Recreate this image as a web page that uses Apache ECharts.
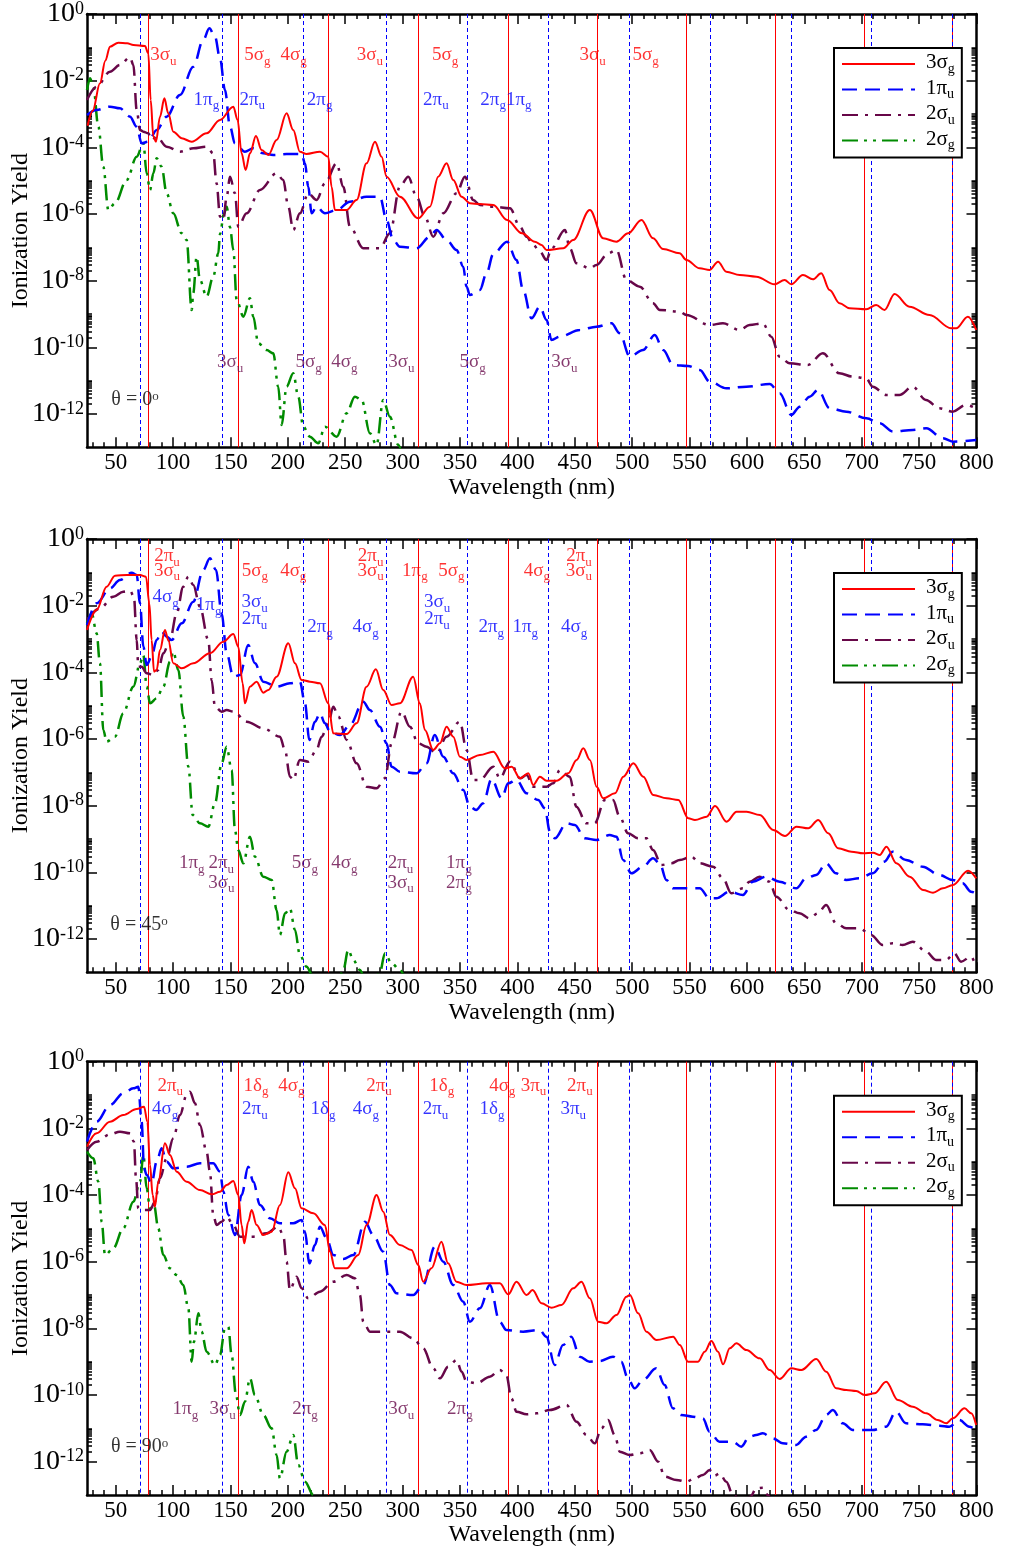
<!DOCTYPE html>
<html><head><meta charset="utf-8">
<script src="https://cdn.jsdelivr.net/npm/echarts@6/dist/echarts.min.js"></script>
<style>html,body{margin:0;padding:0;background:#fff}#c{width:1010px;height:1551px}</style>
</head><body><div id="c"></div><script>
// ---------------- DATA (x = wavelength nm, y = log10 of ionization yield) ----------------
const seriesNames = ['3σ_g', '1π_u', '2σ_u', '2σ_g'];
const xTickLabels = [50,100,150,200,250,300,350,400,450,500,550,600,650,700,750,800];
const yTickLabels = [1,1e-2,1e-4,1e-6,1e-8,1e-10,1e-12];
const redLineNm  = [77.8,156.2,235.2,313.6,392,469,546.8,624.3,701.8,779];
const blueLineNm = [70.9,142.3,213.4,285.2,356.3,426.9,497.1,567.7,638,708.5,779];

// theta = 0
const p1_3sg = [[25.5,-3.35],[30,-2.9],[36.3,-2.08],[41,-1.4],[45,-0.98],[52.3,-0.86],[60,-0.88],[65.4,-0.93],[75.5,-0.96],[78.4,-1.18],[80.5,-2.58],[82.8,-3.68],[85.1,-3.83],[88.6,-3.08],[92.4,-2.53],[95.8,-2.98],[100.2,-3.53],[107.5,-3.73],[116.2,-3.83],[129.2,-3.58],[140.9,-3.18],[152.5,-2.78],[156.2,-3.18],[159.7,-4.18],[163.2,-4.68],[167,-4.18],[172.2,-3.66],[177.1,-4.08],[183,-4.23],[190.2,-3.78],[198.9,-2.98],[204.7,-3.48],[210.5,-4.13],[216.3,-4.2],[228,-4.13],[235.2,-4.28],[238.1,-5.18],[241,-5.88],[251.2,-5.88],[259.9,-5.58],[268.6,-4.48],[275.9,-3.83],[281.7,-4.28],[286,-4.88],[297.6,-5.48],[313.6,-6.13],[323.8,-5.78],[331,-4.88],[338.3,-4.48],[344.1,-4.98],[351.4,-5.48],[358.6,-5.68],[367.3,-5.7],[379,-5.73],[391,-6.18],[404,-6.58],[415.2,-6.83],[421,-6.93],[425.4,-7.08],[439.9,-7.03],[448.6,-6.78],[463.1,-5.88],[474.7,-6.73],[486.3,-6.83],[496.5,-6.58],[508.1,-6.18],[518.2,-6.73],[526.9,-7.05],[541.4,-7.18],[547.2,-7.38],[558.8,-7.63],[567.5,-7.68],[574.8,-7.43],[582,-7.73],[593.7,-7.83],[608.2,-7.88],[624.1,-8.11],[632.8,-7.98],[638.6,-8.11],[648.8,-7.83],[657.5,-7.96],[664.7,-7.78],[672,-8.28],[680.7,-8.68],[689.4,-8.83],[703.9,-8.86],[712.6,-8.73],[719.9,-8.88],[728.6,-8.4],[741.6,-8.78],[759.1,-9.03],[777.9,-9.43],[782.3,-9.43],[792.5,-9.08],[799.7,-9.48]];
const p1_1pu = [[25,-3.03],[33.4,-2.88],[45,-2.78],[53.7,-2.83],[62.5,-3.08],[68.3,-3.38],[72.6,-3.88],[78.4,-3.83],[85.7,-3.48],[94.4,-3.08],[106,-2.43],[117.6,-1.58],[126.3,-0.78],[131.6,-0.43],[136.5,-0.68],[140.9,-1.33],[145.2,-2.28],[149.6,-3.38],[153.9,-3.88],[162.6,-4.13],[169.9,-4.03],[178.6,-4.18],[187.3,-4.23],[198.9,-4.2],[212,-4.2],[214.9,-4.48],[217.8,-5.18],[220.7,-5.98],[225,-5.78],[232.3,-5.98],[242.5,-5.88],[254.1,-5.63],[268.6,-5.48],[280.2,-5.48],[286,-6.18],[291.8,-6.78],[297.6,-6.98],[312.1,-7.03],[323.8,-6.68],[329.6,-6.48],[338.3,-6.78],[347,-7.08],[352.8,-7.58],[355.7,-8.18],[358.6,-8.43],[367.3,-8.28],[373.1,-7.78],[379,-7.2],[391,-6.83],[399.2,-7.38],[405,-8.28],[412.3,-9.13],[419.6,-8.78],[425.4,-9.18],[429.7,-9.78],[437,-9.68],[454.4,-9.48],[468.9,-9.38],[482,-9.28],[489.2,-9.58],[497.9,-10.28],[509.5,-10.08],[519.7,-9.63],[527,-10.08],[535.7,-10.53],[548.7,-10.56],[558.9,-10.68],[567.6,-11.03],[582.1,-11.23],[599.5,-11.18],[619.8,-11.1],[628.5,-11.38],[638.7,-12.03],[646,-11.78],[654.7,-11.48],[661.9,-11.28],[672.1,-11.83],[686.6,-11.93],[704,-12.13],[715.6,-12.28],[727.2,-12.53],[744.6,-12.48],[756.2,-12.43],[770.7,-12.73],[779.4,-12.83],[799.7,-12.78]];
const p1_2su = [[25,-2.58],[33.4,-2.18],[45,-1.73],[53.7,-1.53],[62.5,-1.3],[65.4,-1.53],[68.3,-2.88],[71.2,-3.48],[74.1,-3.53],[78.4,-3.58],[81.3,-3.78],[85.7,-3.68],[94.4,-3.98],[106,-4.13],[117.6,-4.03],[129.2,-3.98],[135,-4.18],[137.9,-5.08],[140.9,-6.08],[143.8,-6.18],[146.7,-5.48],[149.6,-4.88],[153.9,-5.38],[156.8,-6.38],[164.1,-5.98],[175.7,-5.28],[190.2,-4.78],[196,-4.98],[200.4,-5.78],[204.7,-6.48],[210.5,-5.98],[217.8,-5.38],[225,-5.58],[232.3,-5.08],[242.5,-4.48],[248.3,-5.18],[254.1,-6.38],[265.7,-7.03],[280.2,-7.03],[288.9,-6.58],[297.6,-5.18],[304.9,-4.88],[312.1,-5.48],[319.4,-6.08],[326.7,-6.68],[335.4,-5.98],[347,-5.38],[354.3,-4.88],[361.5,-5.58],[367.3,-5.73],[379,-5.78],[393.5,-5.83],[402.2,-6.38],[408,-6.68],[413.8,-6.93],[419.6,-7.13],[425.4,-7.38],[429.7,-7.03],[441.4,-6.48],[445.7,-7.03],[451.5,-7.48],[463.1,-7.63],[468.9,-7.53],[479,-7.18],[486.3,-7.08],[495,-7.98],[506.6,-8.18],[518.2,-8.68],[524,-8.88],[541.4,-8.93],[547.2,-9.03],[567.5,-9.33],[579.1,-9.28],[593.6,-9.48],[602.3,-9.33],[613.9,-9.28],[621.2,-9.68],[628.4,-10.28],[637.1,-10.48],[653.1,-10.53],[666.1,-10.18],[680.6,-10.78],[692.2,-10.88],[703.8,-10.93],[709.6,-11.18],[721.2,-11.43],[732.8,-11.43],[744.4,-11.18],[756,-11.58],[767.6,-11.83],[779.2,-11.93],[790.8,-11.73],[799.5,-11.83]];
const p1_2sg = [[25,-2.28],[27.6,-1.93],[30.5,-2.18],[34.9,-3.38],[39.2,-4.58],[43.6,-5.88],[49.4,-5.68],[59.6,-4.98],[68.3,-4.28],[74.1,-3.88],[77,-4.78],[79.9,-5.28],[82.8,-4.78],[85.7,-4.33],[90,-4.58],[94.4,-5.38],[100.2,-5.98],[107.5,-6.58],[111.8,-6.78],[116.2,-8.88],[117.6,-8.38],[120.5,-7.28],[123.4,-7.98],[129.2,-8.48],[135,-7.88],[139.4,-7.18],[140.9,-6.6],[144.3,-6.0],[146.7,-5.78],[149.6,-6.4],[152.5,-7.08],[155.4,-8.58],[161.2,-9.08],[167,-8.53],[169.9,-9.08],[174.2,-9.88],[181.5,-10.08],[187.3,-10.18],[191.6,-11.18],[194.6,-12.33],[198.9,-11.18],[204.7,-10.78],[209.1,-11.48],[213.4,-12.38],[219.2,-12.68],[226.5,-12.88],[232.3,-12.38],[242.5,-12.68],[251.2,-11.98],[258.4,-11.48],[264.3,-11.58],[271.5,-12.58],[277.3,-12.93],[283.1,-11.58],[288.9,-12.08],[296.2,-12.93],[302,-13.6]];

// theta = 45
const p2_3sg = [[25,-2.73],[33.4,-2.13],[42.1,-1.43],[49.4,-1.1],[59.6,-1.08],[71.2,-1.08],[76.4,-1.13],[79.3,-1.93],[81.3,-3.03],[83.4,-3.98],[85.7,-3.93],[88.6,-3.33],[92.9,-2.73],[95.8,-3.03],[100.2,-3.73],[107.5,-3.88],[117.6,-3.73],[132.1,-3.43],[143.8,-3.08],[152.5,-2.85],[156.8,-3.23],[160.6,-4.33],[162.6,-4.93],[167,-4.43],[172.8,-4.28],[178.6,-4.61],[183,-4.53],[190.2,-4.13],[200.4,-3.13],[206.2,-3.73],[212,-4.23],[219.3,-4.28],[228,-4.33],[235.2,-4.93],[239.6,-5.83],[251.2,-5.85],[259.9,-5.53],[268.6,-4.43],[276.7,-3.91],[283.1,-4.53],[290.4,-4.98],[297.6,-4.93],[309.2,-4.13],[315,-4.93],[319.4,-5.73],[326.7,-6.33],[332.5,-6.13],[338.3,-5.63],[344.1,-5.93],[349.9,-6.53],[355.7,-6.63],[367.3,-6.48],[379,-6.38],[389.1,-6.88],[395,-6.83],[402.3,-7.18],[409.5,-7.03],[413.8,-7.38],[419.6,-7.13],[425.4,-7.25],[434.2,-7.25],[444.3,-7.03],[451.6,-6.63],[457.4,-6.28],[463.2,-6.63],[469,-7.43],[474.8,-7.78],[485,-7.63],[492.3,-7.13],[501,-6.73],[509.7,-7.13],[518.4,-7.68],[530,-7.78],[540.2,-7.83],[548.9,-8.38],[554.7,-8.43],[564.9,-8.33],[572.2,-8.01],[582.3,-8.48],[591,-8.18],[599.7,-8.18],[611.3,-8.28],[622.9,-8.73],[633.1,-8.91],[643.2,-8.63],[653.4,-8.68],[662.1,-8.43],[670.8,-8.83],[679.5,-9.28],[691.1,-9.38],[701.2,-9.43],[709.9,-9.41],[715.7,-9.48],[721.5,-9.23],[730.2,-9.73],[741.8,-10.13],[753.4,-10.53],[762.1,-10.61],[770.8,-10.48],[779.5,-10.38],[792.6,-9.95],[799.8,-10.18]];
const p2_1pu = [[25,-2.58],[33.4,-1.93],[45,-1.48],[53.7,-1.23],[63.9,-1.01],[68.3,-1.08],[71.2,-1.93],[74.1,-3.23],[77,-3.78],[81.3,-3.53],[85.7,-3.03],[90,-2.78],[94.4,-2.93],[98.8,-3.03],[107.5,-2.53],[117.6,-1.88],[126.3,-0.93],[132.1,-0.58],[137.4,-0.93],[142.3,-2.23],[146.7,-3.43],[152.5,-4.13],[158.3,-4.08],[165.5,-3.18],[171.3,-3.73],[178.6,-4.28],[190.2,-4.43],[201.8,-4.33],[210.5,-4.28],[214.9,-4.93],[218.7,-6.03],[223.6,-5.48],[228,-5.23],[232.3,-5.53],[236.7,-5.78],[245.4,-5.88],[254.1,-5.58],[265.7,-4.88],[271.5,-5.13],[280.2,-5.63],[286,-6.13],[290.4,-6.83],[297.6,-6.98],[312.1,-7.03],[320.8,-6.73],[328,-5.88],[335.4,-6.53],[344.1,-7.03],[352.8,-7.53],[358.6,-8.03],[364,-8.13],[370.2,-7.93],[377.5,-7.2],[386.3,-7.78],[392,-7.33],[399.2,-7.23],[408,-7.63],[418.1,-7.83],[423.9,-8.08],[428.3,-8.78],[432.6,-8.98],[442.8,-8.53],[450,-8.58],[458.7,-8.98],[468.8,-9.03],[480.4,-8.88],[486.3,-8.93],[492.1,-9.63],[499.3,-10.03],[509.5,-9.83],[518.2,-9.58],[524,-9.73],[529.8,-10.23],[535.6,-10.48],[550.1,-10.48],[558.8,-10.48],[567.5,-10.78],[573.3,-10.78],[584.9,-10.58],[596.5,-10.68],[605.2,-10.28],[616.8,-10.13],[628.4,-10.28],[642.9,-10.48],[651.6,-10.18],[660.3,-10.08],[669,-9.73],[677.7,-10.03],[686.4,-10.23],[698,-10.18],[709.6,-10.03],[719.7,-9.68],[727,-9.38],[738.6,-9.63],[753.1,-9.83],[767.6,-10.08],[779.2,-10.23],[787.9,-10.33],[795.2,-10.58],[799.5,-10.63]];
const p2_2su = [[25,-2.43],[36.3,-2.08],[47.9,-1.73],[56.6,-1.58],[62.5,-1.55],[65.9,-1.73],[68.3,-3.03],[69.7,-3.83],[72.6,-3.83],[77,-4.03],[82.8,-4.08],[87.1,-3.93],[91.5,-3.43],[97.3,-3.03],[103.1,-2.23],[108.9,-1.43],[113.3,-1.13],[117.6,-1.38],[123.4,-2.03],[130.7,-3.03],[133.6,-4.23],[136.5,-5.03],[142.3,-5.18],[146.7,-5.13],[152.5,-5.18],[164.1,-5.48],[178.6,-5.68],[193.1,-5.93],[197.5,-6.33],[201.8,-7.13],[204.7,-7.23],[210.5,-6.63],[217.8,-6.68],[225,-6.33],[229.4,-5.93],[235.2,-5.53],[239.6,-5.03],[244,-5.33],[251.2,-6.03],[259.9,-6.73],[268.6,-7.43],[277.3,-7.48],[284.6,-7.18],[290.4,-6.13],[299.1,-5.18],[306.3,-5.63],[313.6,-6.13],[320.8,-6.23],[329.6,-6.43],[338.3,-5.93],[349.9,-5.48],[355.7,-6.33],[361.5,-7.23],[367.3,-7.23],[379,-6.83],[384.7,-7.18],[393.5,-6.68],[402.3,-7.18],[408,-7.08],[413.8,-7.43],[425.4,-7.43],[431.2,-7.33],[437,-6.93],[445.6,-7.13],[451.4,-8.03],[460.1,-8.53],[467.4,-8.53],[476.1,-7.83],[483.3,-7.83],[489.1,-8.33],[496.4,-8.83],[505.1,-8.98],[512.4,-8.98],[518.2,-9.33],[525.4,-9.78],[534.2,-9.73],[541.4,-9.63],[551.6,-9.53],[558.8,-9.73],[570.4,-9.83],[579.1,-10.18],[586.4,-10.63],[596.5,-10.48],[602.3,-10.28],[611,-10.13],[619.7,-10.28],[625.5,-10.73],[637.1,-11.13],[645.8,-11.23],[654.5,-11.38],[661.8,-11.23],[669,-10.98],[677.7,-11.53],[686.4,-11.68],[698,-11.68],[708.1,-11.88],[718.3,-12.18],[727,-12.13],[735.7,-12.18],[744.4,-12.08],[756,-12.38],[764.7,-12.63],[773.4,-12.63],[780.7,-12.43],[786.5,-12.68],[795.2,-12.53],[799.5,-12.83]];
const p2_2sg = [[25,-2.53],[29.1,-2.23],[33.4,-2.83],[36.3,-3.73],[39.2,-5.73],[42.1,-6.08],[49.4,-5.93],[56.6,-5.23],[65.4,-4.43],[71.2,-3.73],[74.1,-3.48],[77,-4.43],[79.9,-4.93],[85.7,-4.78],[91.5,-4.43],[97.3,-3.68],[100.2,-3.38],[104.6,-3.93],[108.9,-5.33],[113.3,-6.83],[117.1,-8.28],[123.4,-8.53],[130.7,-8.63],[136.5,-7.93],[142.3,-6.73],[146.7,-6.23],[151,-6.93],[153.9,-8.73],[156.8,-9.33],[161.2,-9.73],[167,-8.93],[171.3,-9.53],[178.6,-10.13],[185.9,-10.23],[190.2,-11.13],[193.1,-11.88],[197.5,-11.23],[201.8,-11.08],[206.2,-11.73],[210.5,-12.48],[216.3,-12.83],[222.2,-13.13],[232,-13.8],[242,-13.6],[248.3,-12.93],[252.6,-12.33],[257,-12.63],[262.8,-12.93],[268,-13.3],[275,-13.3],[280.2,-13.0],[284.6,-12.43],[290.4,-12.73],[297.6,-12.93],[305,-13.5]];

// theta = 90
const p3_3sg = [[25,-2.55],[33.4,-2.15],[45,-1.8],[56.6,-1.6],[68.3,-1.42],[74.7,-1.35],[77.6,-1.8],[79.9,-3.1],[82.2,-4.0],[84.2,-4.35],[87.1,-3.6],[92.9,-2.45],[97.3,-2.8],[103.1,-3.3],[111.8,-3.6],[123.4,-3.85],[133.6,-3.98],[140.9,-3.9],[146.7,-3.7],[152.5,-3.58],[156.8,-4.0],[159.7,-4.9],[162,-5.45],[165.5,-4.8],[168.4,-4.45],[172.8,-4.9],[178.6,-5.2],[185.9,-5.1],[193.1,-4.3],[200.4,-3.32],[206.2,-3.8],[212,-4.4],[222.2,-4.55],[232.3,-4.9],[236.7,-5.7],[241,-6.2],[251.2,-6.2],[261.3,-5.8],[268.6,-4.9],[277.3,-4.0],[283.1,-4.5],[288.9,-5.2],[297.6,-5.5],[307.7,-5.65],[313.6,-6.1],[317.9,-6.6],[325.1,-6.2],[333.8,-5.4],[339.6,-6.05],[346.9,-6.6],[355.7,-6.7],[373.1,-6.65],[384.7,-6.65],[392,-6.98],[399.2,-6.6],[408,-7.0],[413.2,-6.85],[421,-7.25],[429.7,-7.38],[438.4,-7.3],[448.6,-6.8],[455.8,-6.6],[463.1,-7.1],[470.3,-7.8],[477.6,-7.85],[486.3,-7.6],[495,-7.05],[498,-7.0],[505.2,-7.55],[512.4,-8.1],[521.2,-8.35],[535.7,-8.25],[541.5,-8.5],[548.7,-9.0],[557.4,-9.0],[563.2,-8.7],[569,-8.38],[574.8,-8.7],[579.2,-9.08],[585,-8.6],[590.8,-8.45],[599.5,-8.65],[611.1,-8.9],[619.8,-9.25],[628.5,-9.52],[638.7,-9.2],[647.4,-9.25],[660.4,-8.92],[669.1,-9.3],[677.8,-9.8],[686.5,-9.85],[695.2,-9.88],[702.5,-10.0],[711.2,-9.95],[721.3,-9.6],[731.5,-10.15],[744.5,-10.35],[756.2,-10.55],[766.3,-10.75],[773.6,-10.85],[779.4,-10.7],[789.6,-10.4],[795.4,-10.55],[799.7,-10.9]];
const p3_1pu = [[25,-2.4],[33.4,-1.8],[45,-1.3],[56.6,-0.95],[65.4,-0.8],[69.7,-0.75],[72.6,-1.8],[74.7,-3.2],[77,-3.4],[81.3,-3.65],[85.7,-3.0],[90,-2.6],[94.4,-3.0],[100.2,-3.2],[111.8,-3.15],[123.4,-3.05],[135,-3.05],[140.9,-3.3],[143.8,-3.9],[148.1,-4.6],[153.9,-5.2],[159.7,-4.0],[165.5,-3.15],[169.9,-3.6],[175.7,-4.3],[184.4,-4.7],[193.1,-4.85],[204.7,-4.85],[212,-4.75],[214.9,-5.1],[218.7,-6.05],[223.6,-5.5],[228,-4.95],[233.8,-5.3],[239.6,-5.8],[248.3,-5.92],[257,-5.8],[267.2,-4.8],[274.4,-5.2],[283.1,-5.7],[288.9,-6.7],[294.7,-6.95],[309.2,-7.0],[317.9,-6.7],[328,-5.55],[335.4,-6.0],[344.1,-6.7],[352.8,-7.2],[358.6,-7.8],[367.3,-7.4],[376,-6.7],[384.6,-7.8],[390.4,-8.05],[404.9,-8.1],[419.4,-8.05],[425.2,-8.25],[432.5,-9.1],[439.7,-8.5],[447,-8.25],[454.3,-8.85],[463,-9.0],[471.7,-8.98],[483.3,-8.85],[490.5,-9.0],[496.3,-9.5],[502.1,-9.8],[509.4,-9.55],[521,-9.2],[528.2,-9.7],[535.5,-10.4],[542.8,-10.6],[552.9,-10.65],[561.6,-10.7],[567.4,-11.1],[576.1,-11.4],[587.7,-11.4],[595,-11.55],[602.2,-11.25],[608,-11.2],[613.8,-11.15],[622.5,-11.3],[631.2,-11.45],[642.8,-11.5],[651.6,-11.25],[660.3,-11.05],[669,-10.6],[674.8,-10.45],[683.5,-10.85],[692.2,-11.05],[709.6,-11.05],[721.2,-10.95],[729.9,-10.5],[738.6,-10.85],[753.1,-10.88],[767.6,-10.92],[776.3,-10.95],[785,-10.75],[793.8,-10.95],[799.5,-11.05]];
const p3_2su = [[25,-2.65],[33.4,-2.4],[45,-2.18],[53.7,-2.1],[62.5,-2.15],[65.9,-2.4],[67.7,-3.5],[69.7,-4.4],[74.1,-4.45],[79.9,-4.45],[84.2,-4.2],[88.6,-3.5],[94.4,-2.9],[100.2,-2.3],[106,-1.6],[111.8,-1.0],[114.7,-0.9],[119.1,-1.25],[123.4,-1.9],[129.2,-2.7],[132.1,-3.3],[135,-4.6],[137.9,-4.9],[142.3,-4.8],[146.7,-4.65],[152.5,-4.9],[158.3,-5.25],[169.9,-5.25],[181.5,-5.15],[191.6,-4.95],[196,-5.2],[198.9,-6.0],[201.8,-6.85],[207.6,-6.45],[212,-6.8],[217.8,-7.1],[228,-6.9],[239.6,-6.6],[251.2,-6.4],[258.4,-6.5],[262.8,-7.0],[265.7,-7.8],[271.5,-8.1],[284.6,-8.1],[297.6,-8.1],[309.2,-8.3],[317.9,-8.6],[326.7,-9.2],[332.5,-9.5],[339.7,-9.15],[347,-8.95],[351.4,-9.3],[355.7,-9.6],[364.4,-9.65],[376,-9.45],[384.7,-9.25],[390.4,-9.4],[394.8,-10.1],[399.2,-10.5],[408,-10.58],[416.7,-10.55],[428.3,-10.45],[442.8,-10.3],[451.5,-10.8],[460.2,-11.2],[467.4,-11.45],[473.2,-11.0],[479,-10.75],[484.8,-11.2],[489.2,-11.7],[497.9,-11.8],[506.6,-11.75],[515.3,-11.65],[522.6,-12.0],[528.4,-12.45],[538.5,-12.55],[547.2,-12.6],[554.5,-12.5],[561.7,-12.4],[567.5,-12.25],[571.9,-12.42],[576.2,-12.35],[582,-12.6],[587.8,-13.0],[596,-13.2],[603,-13.05],[608.1,-12.8],[613.9,-12.78],[618.2,-13.0],[625,-13.5]];
const p3_2sg = [[25,-2.7],[30.5,-2.9],[34.9,-3.6],[37.8,-4.8],[40.7,-5.8],[47.9,-5.6],[56.6,-5.0],[65.4,-4.2],[71.2,-3.6],[74.1,-2.8],[77,-3.8],[79.9,-4.4],[83.4,-4.3],[87.1,-5.0],[91.5,-5.8],[97.3,-6.2],[103.1,-6.4],[108.9,-6.7],[113.3,-7.4],[116.2,-9.0],[118.2,-8.4],[122,-7.55],[124.9,-8.1],[129.2,-8.7],[136.5,-9.1],[140.9,-8.8],[145.2,-8.0],[148.1,-7.95],[151,-8.8],[154.8,-10.0],[158.3,-10.6],[162.6,-10.2],[167,-9.5],[171.3,-10.0],[178.6,-10.6],[185.9,-11.0],[190.2,-11.8],[193.1,-12.5],[198.9,-11.7],[204.7,-11.2],[209.1,-12.1],[214.9,-12.6],[222.2,-13.0],[230,-13.6]];

// annotation labels: [text, wavelength nm, log10 yield]   (_x = subscript, ^x = superscript)
const p1RedLabels = [['3σ_u',91.5,-1.28],['5σ_g',173.4,-1.28],['4σ_g',205,-1.28],['3σ_u',271.5,-1.28],['5σ_g',337,-1.28],['3σ_u',465.5,-1.28],['5σ_g',511.7,-1.28]];
const p1BlueLabels = [['1π_g',129,-2.62],['2π_u',169,-2.62],['2π_g',227.7,-2.62],['2π_u',329,-2.62],['2π_g1π_g',390,-2.62]];
const p1MaroonLabels = [['3σ_u',149.6,-10.5],['5σ_g',218,-10.5],['4σ_g',249.2,-10.5],['3σ_u',299,-10.5],['5σ_g',361,-10.5],['3σ_u',441,-10.5]];
const p1Theta = [['θ = 0^o',66.8,-11.63]];
const p2RedLabels = [['2π_u',94.7,-0.57],['3σ_u',94.7,-1.0],['5σ_g',171.3,-1.0],['4σ_g',204.7,-1.0],['2π_u',272.1,-0.57],['3σ_u',272.1,-1.0],['1π_g',310.7,-1.0],['5σ_g',342.4,-1.0],['4σ_g',417,-1.0],['2π_u',453.6,-0.57],['3σ_u',453.6,-1.0]];
const p2BlueLabels = [['4σ_g',93.5,-1.8],['1π_g',131,-2.03],['3σ_u',171,-1.95],['2π_u',171,-2.45],['2π_g',228,-2.7],['4σ_g',267.7,-2.7],['3σ_u',330,-1.95],['2π_u',330,-2.45],['2π_g',377.2,-2.7],['1π_g',406.8,-2.7],['4σ_g',449.5,-2.7]];
const p2MaroonLabels = [['1π_g',116.2,-9.78],['2π_u',142,-9.78],['3σ_u',142,-10.36],['5σ_g',214.9,-9.78],['4σ_g',249.2,-9.78],['2π_u',298.2,-9.78],['3σ_u',298.2,-10.36],['1π_g',349,-9.78],['2π_g',349,-10.36]];
const p2Theta = [['θ = 45^o',70.3,-11.63]];
const p3RedLabels = [['2π_u',97.6,-0.77],['1δ_g',172.2,-0.77],['4σ_g',203,-0.77],['2π_u',279.4,-0.77],['1δ_g',334,-0.77],['4σ_g',386.8,-0.77],['3π_u',414,-0.77],['2π_u',454.4,-0.77]];
const p3BlueLabels = [['4σ_g',93,-1.47],['2π_u',171.3,-1.47],['1δ_g',230.6,-1.47],['4σ_g',268,-1.47],['2π_u',328.7,-1.47],['1δ_g',377.8,-1.47],['3π_u',448.6,-1.47]];
const p3MaroonLabels = [['1π_g',110.7,-10.47],['3σ_u',143.2,-10.47],['2π_g',214.9,-10.47],['3σ_u',298.8,-10.47],['2π_g',349.9,-10.47]];
const p3Theta = [['θ = 90^o',70.9,-11.6]];

// ---------------- STYLE / LAYOUT ----------------
const SERIF = "'Liberation Serif','DejaVu Serif',serif";
const RED = '#ff0000', BLUE = '#0000ff', MAROON = '#670748', GREEN = '#008b00', BLACK = '#000000';
const curveStyles = [
  {color: RED, width: 2, type: 'solid'},
  {color: BLUE, width: 2.5, type: [15, 8]},
  {color: MAROON, width: 2.5, type: [16, 7, 3, 7]},
  {color: GREEN, width: 2.5, type: [16, 6, 3, 6, 3, 6]}
];
const panels = [
  {curves: [p1_3sg, p1_1pu, p1_2su, p1_2sg], labels: [[p1RedLabels, RED], [p1BlueLabels, BLUE], [p1MaroonLabels, MAROON], [p1Theta, BLACK]]},
  {curves: [p2_3sg, p2_1pu, p2_2su, p2_2sg], labels: [[p2RedLabels, RED], [p2BlueLabels, BLUE], [p2MaroonLabels, MAROON], [p2Theta, BLACK]]},
  {curves: [p3_3sg, p3_1pu, p3_2su, p3_2sg], labels: [[p3RedLabels, RED], [p3BlueLabels, BLUE], [p3MaroonLabels, MAROON], [p3Theta, BLACK]]}
];
const gridTops = [14, 539, 1061.7];
const gridH = 433.3;

const xMinorTicks = [];
for (let v = 30; v < 800; v += 10) if (v % 50 !== 0) xMinorTicks.push(v);
const yMinorTicks = [];
for (let m = -2; m >= -12; m -= 2) for (let k = 2; k <= 10; k++) yMinorTicks.push(k * Math.pow(10, m));

function toRich(txt) {
  let out = '', buf = '';
  for (let i = 0; i < txt.length; i++) {
    const c = txt[i];
    if (c === '_' || c === '^') {
      if (buf) { out += '{m|' + buf + '}'; buf = ''; }
      out += '{' + (c === '_' ? 's' : 'p') + '|' + txt[i + 1] + '}';
      i++;
    } else buf += c;
  }
  if (buf) out += '{m|' + buf + '}';
  return out;
}
function richStyles(color, size, subSize) {
  return {
    m: {fontFamily: SERIF, fontSize: size, color: color, lineHeight: size + 3, verticalAlign: 'top'},
    s: {fontFamily: SERIF, fontSize: subSize, color: color, lineHeight: subSize, verticalAlign: 'bottom', padding: [10, 0, 0, 0]},
    p: {fontFamily: SERIF, fontSize: subSize, color: color, lineHeight: subSize, verticalAlign: 'top'}
  };
}
const toPts = arr => arr.map(p => [p[0], Math.pow(10, p[1])]);

// vertical reference lines drawn through the axis scale
function vlineSeries(xi, yi, vals, color, dash) {
  return {type: 'custom', xAxisIndex: xi, yAxisIndex: yi, silent: true, z: 1,
    data: vals.map(v => [v, 1]), encode: {x: 0, y: 1},
    renderItem: (params, api) => {
      const x = Math.round(api.coord([api.value(0), 1])[0]) + 0.5;
      const cs = params.coordSys;
      return {type: 'line', shape: {x1: x, y1: cs.y, x2: x, y2: cs.y + cs.height},
        style: {stroke: color, lineWidth: 1, lineDash: dash, fill: null}};
    }};
}

const grid = [], xAxis = [], yAxis = [], series = [], legend = [];
const tickLine = {color: '#000', width: 1.5};
panels.forEach((pan, i) => {
  grid.push({left: 87, width: 889.5, top: gridTops[i], height: gridH, containLabel: false, outerBoundsMode: 'none'});
  const xb = {type: 'value', gridIndex: i, min: 25, max: 800, splitLine: {show: false}};
  xAxis.push(Object.assign({}, xb, {position: 'bottom',
    axisLine: {show: true, onZero: false, lineStyle: {color: '#000', width: 2.5}},
    axisTick: {show: true, inside: true, length: 10, customValues: xTickLabels, lineStyle: tickLine},
    axisLabel: {show: true, customValues: xTickLabels, margin: 4, color: '#000', fontFamily: SERIF, fontSize: 23},
    name: 'Wavelength (nm)', nameLocation: 'middle', nameGap: 28, nameMoveOverlap: false,
    nameTextStyle: {fontFamily: SERIF, fontSize: 24, color: '#000'}}));
  xAxis.push(Object.assign({}, xb, {position: 'bottom', axisLine: {show: false, onZero: false},
    axisTick: {show: true, inside: true, length: 5, customValues: xMinorTicks, lineStyle: tickLine}, axisLabel: {show: false}}));
  xAxis.push(Object.assign({}, xb, {position: 'top', axisLine: {show: true, onZero: false, lineStyle: {color: '#000', width: 2.5}},
    axisTick: {show: true, inside: true, length: 10, customValues: xTickLabels, lineStyle: tickLine}, axisLabel: {show: false}}));
  xAxis.push(Object.assign({}, xb, {position: 'top', axisLine: {show: false, onZero: false},
    axisTick: {show: true, inside: true, length: 5, customValues: xMinorTicks, lineStyle: tickLine}, axisLabel: {show: false}}));

  const yb = {type: 'log', logBase: 10, gridIndex: i, min: 1e-13, max: 1, splitLine: {show: false}};
  yAxis.push(Object.assign({}, yb, {position: 'left',
    axisLine: {show: true, onZero: false, lineStyle: {color: '#000', width: 2.5}},
    axisTick: {show: true, inside: true, length: 10, customValues: yTickLabels, lineStyle: tickLine},
    axisLabel: {show: true, customValues: yTickLabels, margin: 3,
      formatter: v => '{b|10}{e|' + Math.round(Math.log10(v)) + '}',
      rich: {b: {fontFamily: SERIF, fontSize: 28, color: '#000', lineHeight: 28, padding: [5, 0, 0, 0], verticalAlign: 'bottom'},
             e: {fontFamily: SERIF, fontSize: 18, color: '#000', lineHeight: 18, verticalAlign: 'top'}}},
    name: 'Ionization Yield', nameLocation: 'middle', nameGap: 54, nameRotate: 90, nameMoveOverlap: false,
    nameTextStyle: {fontFamily: SERIF, fontSize: 24, color: '#000'}}));
  yAxis.push(Object.assign({}, yb, {position: 'left', axisLine: {show: false, onZero: false},
    axisTick: {show: true, inside: true, length: 5, customValues: yMinorTicks, lineStyle: tickLine}, axisLabel: {show: false}}));
  yAxis.push(Object.assign({}, yb, {position: 'right', axisLine: {show: true, onZero: false, lineStyle: {color: '#000', width: 2.5}},
    axisTick: {show: true, inside: true, length: 10, customValues: yTickLabels, lineStyle: tickLine}, axisLabel: {show: false}}));
  yAxis.push(Object.assign({}, yb, {position: 'right', axisLine: {show: false, onZero: false},
    axisTick: {show: true, inside: true, length: 5, customValues: yMinorTicks, lineStyle: tickLine}, axisLabel: {show: false}}));

  const xi = 4 * i, yi = 4 * i;
  series.push(vlineSeries(xi, yi, redLineNm, RED, null));
  series.push(vlineSeries(xi, yi, blueLineNm, BLUE, [4, 3]));
  // curves
  pan.curves.forEach((arr, k) => {
    const st = curveStyles[k];
    series.push({type: 'line', name: seriesNames[k], xAxisIndex: xi, yAxisIndex: yi, data: toPts(arr),
      symbol: 'none', showSymbol: false, smooth: 0.35, smoothMonotone: 'x', clip: true, z: 3 + (3 - k),
      lineStyle: {color: st.color, width: st.width, type: st.type, cap: 'butt'}, itemStyle: {color: st.color}});
  });
  // annotations
  pan.labels.forEach(([arr, color]) => {
    series.push({type: 'scatter', xAxisIndex: xi, yAxisIndex: yi, silent: true, z: 8, symbolSize: 1,
      itemStyle: {color: 'rgba(0,0,0,0)'},
      data: arr.map(a => ({value: [a[1], Math.pow(10, a[2])], name: a[0]})),
      label: {show: true, position: 'inside', formatter: p => toRich(p.name), rich: richStyles(color, color === BLACK ? 20 : 19, 13)}});
  });
  legend.push({show: true, orient: 'vertical', left: 834, top: gridTops[i] + 34, data: seriesNames,
    itemWidth: 73, itemHeight: 14, itemGap: 1.5, padding: [4, 7, 5, 7], selectedMode: false,
    borderColor: '#000', borderWidth: 2, borderRadius: 0, backgroundColor: '#fff', z: 20,
    itemStyle: {opacity: 0, borderWidth: 0},
    formatter: n => toRich(n),
    textStyle: {fontFamily: SERIF, fontSize: 21, color: '#000', padding: [0, 0, 0, 6], rich: richStyles('#000', 21, 14)}});
});

const chart = echarts.init(document.getElementById('c'), null, {renderer: 'canvas'});
chart.setOption({animation: false, backgroundColor: '#fff', grid, xAxis, yAxis, series, legend});
</script></body></html>
